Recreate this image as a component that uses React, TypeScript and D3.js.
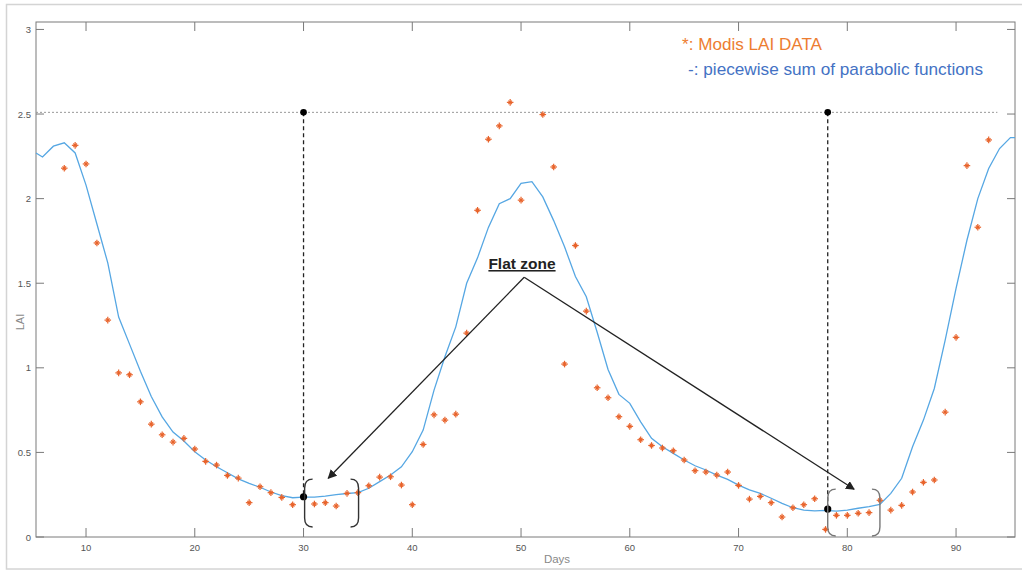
import React from "react";
import * as d3 from "d3";

const modisDays = [8, 9, 10, 11, 12, 13, 14, 15, 16, 17, 18, 19, 20, 21, 22, 23, 24, 25, 26, 27, 28, 29,
  31, 32, 33, 34, 35, 36, 37, 38, 39, 40, 41, 42, 43, 44, 45, 46, 47, 48, 49, 50,
  52, 53, 54, 55, 56, 57, 58, 59, 60, 61, 62, 63, 64, 65, 66, 67, 68, 69, 70, 71, 72, 73, 74, 75, 76, 77, 78,
  79, 80, 81, 82, 83, 84, 85, 86, 87, 88, 89, 90, 91, 92, 93];
const modisLAI = [2.18, 2.315, 2.205, 1.738, 1.282, 0.970, 0.959, 0.799, 0.667, 0.604, 0.561, 0.583, 0.520, 0.447, 0.425, 0.364, 0.348, 0.203, 0.297, 0.262, 0.234, 0.191,
  0.195, 0.203, 0.183, 0.258, 0.262, 0.303, 0.354, 0.356, 0.307, 0.191, 0.547, 0.722, 0.691, 0.726, 1.205, 1.931, 2.351, 2.430, 2.569, 1.991,
  2.497, 2.187, 1.022, 1.723, 1.335, 0.882, 0.823, 0.711, 0.654, 0.575, 0.541, 0.526, 0.510, 0.455, 0.392, 0.384, 0.366, 0.384, 0.305, 0.224, 0.240, 0.203, 0.118, 0.173, 0.191, 0.226, 0.045,
  0.128, 0.128, 0.140, 0.144, 0.217, 0.159, 0.187, 0.266, 0.323, 0.337, 0.738, 1.180, 2.195, 1.831, 2.347];

const fitDays = [5.4, 6, 7, 8, 9, 10, 11, 12, 13, 14, 15, 16, 17, 18, 19, 20, 21, 22, 23, 24, 25, 26, 27, 28, 29, 30,
  31, 32, 33, 34, 35, 36, 37, 38, 39, 40, 41, 42, 43, 44, 45, 46, 47, 48, 49, 50, 51, 52, 53, 54, 55, 56, 57, 58, 59, 60,
  61, 62, 63, 64, 65, 66, 67, 68, 69, 70, 71, 72, 73, 74, 75, 76, 77, 78, 79, 80, 81, 82, 83, 84, 85, 86, 87, 88, 89, 90,
  91, 92, 93, 94, 95, 95.42];
const fitLAI = [2.27, 2.246, 2.31, 2.33, 2.27, 2.08, 1.85, 1.62, 1.30, 1.14, 0.98, 0.83, 0.71, 0.62, 0.567, 0.504, 0.455, 0.415, 0.38, 0.344, 0.317, 0.294, 0.266, 0.244, 0.232, 0.236,
  0.236, 0.242, 0.25, 0.257, 0.262, 0.288, 0.327, 0.366, 0.415, 0.504, 0.632, 0.868, 1.065, 1.242, 1.50, 1.65, 1.83, 1.97, 2.00, 2.09, 2.10, 2.01, 1.87, 1.715, 1.54, 1.42, 1.21, 0.99, 0.843, 0.79,
  0.681, 0.583, 0.533, 0.494, 0.455, 0.421, 0.396, 0.366, 0.341, 0.307, 0.278, 0.258, 0.229, 0.199, 0.173, 0.159, 0.155, 0.157, 0.153, 0.159, 0.170, 0.179, 0.193, 0.258, 0.347, 0.533, 0.691, 0.878, 1.164, 1.47,
  1.754, 2.0, 2.178, 2.296, 2.361, 2.361];

const xTicks = [10, 20, 30, 40, 50, 60, 70, 80, 90];
const yTicks = [0, 0.5, 1, 1.5, 2, 2.5, 3];
const yTickLabels = ["0", "0.5", "1", "1.5", "2", "2.5", "3"];

const thresholdLAI = 2.51;
const thresholdEndDay = 93.8;
const markDays = [30, 78.2];
const markLAI = [0.238, 0.165];

const bracketStart = [30.1, 78.2];
const bracketEnd = [35.06, 83.0];
const bracketTop = [0.342, 0.283];
const bracketBottom = [0.059, 0.006];

const arrowApex = { day: 50.29, lai: 1.535 };
const arrowTipDays = [32.27, 80.63];
const arrowTipLAI = [0.347, 0.282];

const W = 1022, H = 572;
const x = d3.scaleLinear().domain([5.4, 95.42]).range([36, 1015]);
const y = d3.scaleLinear().domain([0, 3.044]).range([537, 22]);

const axisColor = "#7a7a7a";
const tickLabelColor = "#555";
const font = "'Liberation Sans', Arial, sans-serif";

function Asterisk({ cx, cy }: { cx: number; cy: number }) {
  const r = 3.3;
  const d = 1.8;
  return (
    <g stroke="#E8632B" strokeWidth={1.2}>
      <line x1={cx} y1={cy - r} x2={cx} y2={cy + r} />
      <line x1={cx - r} y1={cy} x2={cx + r} y2={cy} />
      <line x1={cx - d} y1={cy - d} x2={cx + d} y2={cy + d} />
      <line x1={cx - d} y1={cy + d} x2={cx + d} y2={cy - d} />
    </g>
  );
}

export default function App() {
  const line = d3
    .line<number>()
    .x((_, i) => x(fitDays[i]))
    .y((v) => y(v));
  const fitPath = line(fitLAI) || "";

  const x0 = x.range()[0], x1 = x.range()[1];
  const y0 = y.range()[0], y1 = y.range()[1];

  const bracketPath = (i: number, side: "l" | "r") => {
    const xb = side === "l" ? x(bracketStart[i]) : x(bracketEnd[i]);
    const dir = side === "l" ? 1 : -1;
    const t = y(bracketTop[i]);
    const b = y(bracketBottom[i]);
    const e = 8 * dir;
    return `M${xb + e},${t} Q${xb},${t} ${xb},${t + 9} L${xb},${b - 9} Q${xb},${b} ${xb + e},${b}`;
  };

  return (
    <div style={{ position: "fixed", left: 0, top: 0 }}>
      <svg width={W} height={H} style={{ display: "block", background: "#fff" }}>
        <defs>
          <marker id="ah" viewBox="0 0 10 10" refX="9" refY="5" markerWidth="9" markerHeight="9" markerUnits="userSpaceOnUse" orient="auto">
            <path d="M0,0 L10,5 L0,10 z" fill="#222" />
          </marker>
        </defs>
        {/* outer frame */}
        <rect x={6.5} y={4.5} width={1030} height={564.5} fill="none" stroke="#d4d4d4" strokeWidth={1.5} />

        {/* axes box */}
        <rect x={x0} y={y1} width={x1 - x0} height={y0 - y1} fill="none" stroke={axisColor} strokeWidth={1} />
        {xTicks.map((t) => (
          <g key={"xt" + t}>
            <line x1={x(t)} x2={x(t)} y1={y0} y2={y0 - 9} stroke={axisColor} />
            <line x1={x(t)} x2={x(t)} y1={y1} y2={y1 + 9} stroke={axisColor} />
            <text x={x(t)} y={y0 + 14} fontSize={9.5} fill={tickLabelColor} textAnchor="middle" fontFamily={font}>
              {t}
            </text>
          </g>
        ))}
        {yTicks.map((t, i) => (
          <g key={"yt" + t}>
            <line x1={x0} x2={x0 + 8} y1={y(t)} y2={y(t)} stroke={axisColor} />
            <line x1={x1} x2={x1 - 8} y1={y(t)} y2={y(t)} stroke={axisColor} />
            <text x={x0 - 5} y={y(t) + 3.5} fontSize={9.5} fill={tickLabelColor} textAnchor="end" fontFamily={font}>
              {yTickLabels[i]}
            </text>
          </g>
        ))}
        <text x={557} y={563} fontSize={11.5} fill="#888" textAnchor="middle" fontFamily={font}>
          Days
        </text>
        <text transform="translate(23.5,322) rotate(-90)" fontSize={11} fill="#888" textAnchor="middle" fontFamily={font}>
          LAI
        </text>

        {/* threshold dotted line */}
        <line x1={x0} x2={x(thresholdEndDay)} y1={y(thresholdLAI)} y2={y(thresholdLAI)} stroke="#999" strokeWidth={1} strokeDasharray="2,2" />

        {/* dashed verticals */}
        {markDays.map((d, i) => (
          <line key={"v" + i} x1={x(d)} x2={x(d)} y1={y(thresholdLAI)} y2={y(markLAI[i])} stroke="#222" strokeWidth={1.3} strokeDasharray="4,3" />
        ))}

        {/* fitted curve */}
        <path d={fitPath} fill="none" stroke="#56A7E3" strokeWidth={1.3} />

        {/* data */}
        {modisDays.map((d, i) => (
          <Asterisk key={"m" + i} cx={x(d)} cy={y(modisLAI[i])} />
        ))}

        {/* dots */}
        {markDays.map((d, i) => (
          <g key={"dot" + i}>
            <circle cx={x(d)} cy={y(thresholdLAI)} r={3.3} fill="#000" />
            <circle cx={x(d)} cy={y(markLAI[i])} r={3.6} fill="#000" />
          </g>
        ))}

        {/* brackets */}
        {[0, 1].map((i) => (
          <g key={"br" + i} fill="none" stroke={i === 0 ? "#333" : "#777"} strokeWidth={1.4}>
            <path d={bracketPath(i, "l")} />
            <path d={bracketPath(i, "r")} />
          </g>
        ))}

        {/* arrows */}
        {arrowTipDays.map((d, i) => (
          <line key={"ar" + i} x1={x(arrowApex.day)} y1={y(arrowApex.lai)} x2={x(d)} y2={y(arrowTipLAI[i])} stroke="#222" strokeWidth={1.3} markerEnd="url(#ah)" />
        ))}
        <text x={522} y={269} fontSize={15.5} fontWeight="bold" fill="#222" textAnchor="middle" fontFamily={font} textDecoration="underline">
          Flat zone
        </text>

        {/* legend */}
        <text x={682} y={50} fontSize={17} fill="#ED7D31" fontFamily={font} textLength={140} lengthAdjust="spacingAndGlyphs">
          *: Modis LAI DATA
        </text>
        <text x={688} y={75} fontSize={17} fill="#4472C4" fontFamily={font} textLength={295} lengthAdjust="spacingAndGlyphs">
          -: piecewise sum of parabolic functions
        </text>
      </svg>
    </div>
  );
}
